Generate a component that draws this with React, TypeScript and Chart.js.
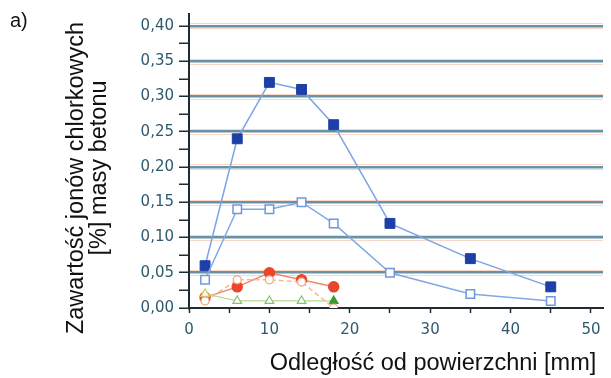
import React, { useEffect, useRef } from "react";
import { Chart, registerables } from "chart.js";

Chart.register(...registerables);

const xFilledSq = [2, 6, 10, 14, 18, 25, 35, 45];
const yFilledSq = [0.06, 0.24, 0.32, 0.31, 0.26, 0.12, 0.07, 0.03];
const xOpenSq = [2, 6, 10, 14, 18, 25, 35, 45];
const yOpenSq = [0.04, 0.14, 0.14, 0.15, 0.12, 0.05, 0.02, 0.01];
const xRed = [2, 6, 10, 14, 18];
const yRed = [0.015, 0.03, 0.05, 0.04, 0.03];
const xOrangeOpen = [2, 6, 10, 14, 18];
const yOrangeOpen = [0.01, 0.04, 0.04, 0.037, 0.0];
const xGreen = [2, 6, 10, 14, 18];
const yGreen = [0.02, 0.01, 0.01, 0.01, 0.01];

const xTicks = [0, 5, 10, 15, 20, 25, 30, 35, 40, 45, 50];
const yTicks = [0, 0.025, 0.05, 0.075, 0.1, 0.125, 0.15, 0.175, 0.2, 0.225, 0.25, 0.275, 0.3, 0.325, 0.35, 0.375, 0.4];

const xTitle = "Odległość od powierzchni [mm]";
const yTitle = ["Zawartość jonów chlorkowych", "[%] masy betonu"];
const panelLabel = "a)";

const pts = (xs: number[], ys: number[]) => xs.map((x, i) => ({ x, y: ys[i] }));
const isMajorY = (v: number) => Math.abs(v * 20 - Math.round(v * 20)) < 1e-6;
const FONT = "'Liberation Sans', Arial, Helvetica, sans-serif";
const TICK_FONT = "'DejaVu Sans', Verdana, sans-serif";

const titlesPlugin = {
  id: "titlesPlugin",
  afterDraw(chart: any) {
    const ctx = chart.ctx;
    ctx.save();
    ctx.fillStyle = "#111111";
    ctx.font = `23.5px ${FONT}`;
    ctx.textAlign = "center";
    ctx.textBaseline = "middle";
    ctx.fillText(xTitle, 433, 364);
    ctx.save();
    ctx.translate(77, 178);
    ctx.rotate(-Math.PI / 2);
    ctx.fillText(yTitle[0], 0, 0);
    ctx.restore();
    ctx.save();
    ctx.translate(100, 168);
    ctx.rotate(-Math.PI / 2);
    ctx.fillText(yTitle[1], 0, 0);
    ctx.restore();
    ctx.restore();
  },
};

const gridHaloPlugin = {
  id: "gridHaloPlugin",
  beforeDatasetsDraw(chart: any) {
    const { ctx, chartArea, scales } = chart;
    ctx.save();
    ctx.strokeStyle = "rgba(244,168,128,0.45)";
    ctx.lineWidth = 1;
    yTicks.forEach((v) => {
      if (!isMajorY(v) || v === 0) return;
      const p = scales.y.getPixelForValue(v);
      [-2.5, 2.5].forEach((d) => {
        ctx.beginPath();
        ctx.moveTo(chartArea.left + 1, Math.round(p + d) + 0.5);
        ctx.lineTo(chartArea.right, Math.round(p + d) + 0.5);
        ctx.stroke();
      });
    });
    ctx.restore();
  },
};

export default function App() {
  const ref = useRef<HTMLCanvasElement>(null);
  useEffect(() => {
    const canvas = ref.current!;
    const chart = new Chart(canvas, {
      type: "line",
      data: {
        datasets: [
          {
            data: pts(xOrangeOpen, yOrangeOpen),
            borderColor: "#f7b898",
            borderWidth: 1.5,
            borderDash: [5, 3],
            pointStyle: "circle",
            pointRadius: 4,
            pointBackgroundColor: "#ffffff",
            pointBorderColor: "#f3a27e",
            pointBorderWidth: 1.2,
          },
          {
            data: pts(xGreen, yGreen),
            borderColor: "#b5dc8a",
            borderWidth: 1.3,
            pointStyle: "triangle",
            pointRadius: 5,
            pointBackgroundColor: ["#ffffff", "#ffffff", "#ffffff", "#ffffff", "#3c9a2e"],
            pointBorderColor: ["#c8d060", "#86c46a", "#86c46a", "#86c46a", "#3c9a2e"],
            pointBorderWidth: 1.2,
          },
          {
            data: pts(xRed, yRed),
            borderColor: "#f28a68",
            borderWidth: 1.5,
            pointStyle: "circle",
            pointRadius: 5,
            pointBackgroundColor: "#e8472c",
            pointBorderColor: "#e8472c",
          },
          {
            data: pts(xOpenSq, yOpenSq),
            borderColor: "#80a8e6",
            borderWidth: 1.5,
            pointStyle: "rect",
            pointRadius: 6,
            pointBackgroundColor: "#ffffff",
            pointBorderColor: "#6f98dc",
            pointBorderWidth: 1.5,
          },
          {
            data: pts(xFilledSq, yFilledSq),
            borderColor: "#7aa4e4",
            borderWidth: 1.5,
            pointStyle: "rect",
            pointRadius: 7,
            pointBackgroundColor: "#1d3fa6",
            pointBorderColor: "#1d3fa6",
            pointBorderWidth: 1,
          },
        ],
      },
      options: {
        animation: false,
        responsive: false,
        devicePixelRatio: 1,
        layout: { padding: { top: 13, left: 0, right: 0, bottom: 0 } },
        plugins: { legend: { display: false }, tooltip: { enabled: false } },
        scales: {
          x: {
            type: "linear",
            min: 0,
            max: 51.5,
            afterBuildTicks: (s: any) => {
              s.ticks = xTicks.map((v) => ({ value: v }));
            },
            afterFit: (s: any) => {
              s.height = 70;
            },
            border: { display: true, color: "#1f2d33", width: 2 },
            grid: { drawOnChartArea: false, drawTicks: true, tickLength: 5, tickColor: "#1f2d33", tickWidth: 1.5 },
            ticks: {
              autoSkip: false,
              maxRotation: 0,
              padding: 8,
              color: "#2e5a6e",
              font: { family: TICK_FONT, size: 15 },
              callback: (v: any) => (Number(v) % 10 === 0 ? String(v) : ""),
            },
            title: { display: false, text: xTitle },
          },
          y: {
            type: "linear",
            min: 0,
            max: 0.417,
            afterBuildTicks: (s: any) => {
              s.ticks = yTicks.map((v) => ({ value: v }));
            },
            afterFit: (s: any) => {
              s.width = 189;
            },
            border: { display: true, color: "#1f2d33", width: 2 },
            grid: {
              drawOnChartArea: true,
              color: (c: any) => (c.tick && isMajorY(c.tick.value) && c.tick.value > 0 ? "#6a91a5" : "rgba(0,0,0,0)"),
              lineWidth: 2.5,
              drawTicks: true,
              tickLength: 10,
              tickColor: "#1f2d33",
              tickWidth: 1.5,
            },
            ticks: {
              autoSkip: false,
              padding: 5,
              color: "#2e5a6e",
              font: { family: TICK_FONT, size: 15 },
              callback: (v: any) => (isMajorY(Number(v)) ? Number(v).toFixed(2).replace(".", ",") : ""),
            },
            title: { display: false, text: yTitle },
          },
        },
      },
      plugins: [gridHaloPlugin, titlesPlugin],
    });
    return () => chart.destroy();
  }, []);

  return (
    <div style={{ position: "fixed", left: 0, top: 0, width: 611, height: 378, background: "#ffffff" }}>
      <canvas ref={ref} width={611} height={378} style={{ position: "absolute", left: 0, top: 0 }} />
      <div
        style={{
          position: "absolute",
          left: 10,
          top: 10,
          fontFamily: FONT,
          fontSize: 20,
          lineHeight: 1,
          color: "#111111",
        }}
      >
        {panelLabel}
      </div>
    </div>
  );
}
